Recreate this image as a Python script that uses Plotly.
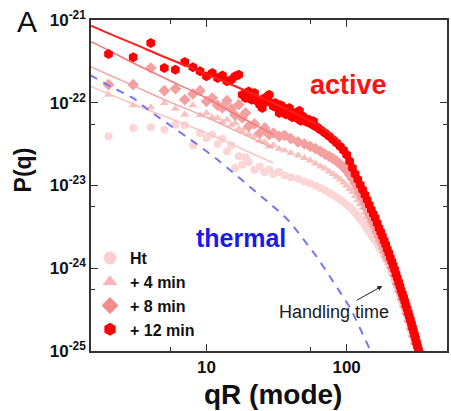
import plotly.graph_objects as go

# ---------------- data ----------------
# +12 min (red)
q_12 = [2, 3, 4, 5, 6, 7, 8, 9, 10, 11, 12, 13, 14, 15, 16, 17,
        18, 19, 20, 21, 22, 23, 24, 25, 26, 27, 28, 29, 30,
        31, 32, 33, 34, 35, 36, 37, 38, 39, 40, 41, 42, 43, 44, 45, 46, 47, 48, 49, 50,
        52, 54, 55, 57, 58, 60, 62, 65, 70, 75, 80, 85, 90, 95,
        100, 105, 110, 115, 120, 125, 130, 135, 140, 145, 150, 155, 160, 165, 170, 175,
        180, 185, 190, 195, 200, 205, 210, 215, 220, 225, 230, 235, 240, 245, 250, 255,
        260, 265, 270, 275, 280, 285, 290, 295, 300, 305, 310, 315, 320, 325, 330]
P_12 = [3.88e-22, 3.54e-22, 5.27e-22, 2.63e-22, 2.51e-22, 3.11e-22, 2.68e-22, 2.40e-22,
        2.09e-22, 2.29e-22, 1.99e-22, 2.14e-22, 1.82e-22, 1.90e-22, 2.09e-22, 2.18e-22,
        1.25e-22, 1.14e-22, 1.37e-22, 1.09e-22, 1.31e-22, 1.04e-22, 9.49e-23, 8.65e-23,
        1.14e-22, 1.04e-22, 1.25e-22, 9.94e-23, 9.06e-23,
        9.94e-23, 8.65e-23, 7.53e-23, 9.31e-23, 8.80e-23, 7.88e-23, 7.19e-23, 8.26e-23,
        8.65e-23, 7.19e-23, 6.68e-23, 7.53e-23, 7.06e-23, 6.55e-23, 7.73e-23, 8.03e-23,
        6.07e-23, 6.55e-23, 6.80e-23, 6.25e-23,
        5.86e-23, 6.25e-23, 5.70e-23, 5.44e-23, 5.97e-23, 5.19e-23, 5.03e-23, 4.73e-23,
        4.31e-23, 3.93e-23, 3.58e-23, 3.26e-23, 2.97e-23, 2.66e-23,
        2.36e-23, 1.96e-23, 1.63e-23, 1.38e-23, 1.18e-23, 1.02e-23, 8.90e-24, 7.75e-24,
        6.74e-24, 5.87e-24, 5.11e-24, 4.53e-24, 4.05e-24, 3.52e-24, 3.07e-24, 2.74e-24,
        2.43e-24, 2.16e-24, 1.93e-24, 1.71e-24, 1.53e-24, 1.35e-24, 1.21e-24, 1.08e-24,
        9.64e-25, 8.55e-25, 7.64e-25, 6.78e-25, 6.06e-25, 5.42e-25, 4.90e-25, 4.42e-25,
        3.99e-25, 3.57e-25, 3.23e-25, 2.91e-25, 2.63e-25, 2.38e-25, 2.13e-25, 1.92e-25,
        1.73e-25, 1.57e-25, 1.42e-25, 1.28e-25, 1.14e-25, 1.04e-25, 9.51e-26]

# modes used for Ht, +4 min and +8 min
q_modes = [2, 3, 4, 5, 6, 7, 8, 9, 10, 11, 12, 13, 14, 15, 16, 17, 18, 19, 20,
           22, 24, 26, 28, 30, 33, 36, 40, 45, 50, 55, 60, 65, 70, 75, 80, 85, 90, 95, 100,
           105, 110, 115, 120, 125, 130, 135, 140, 145, 150, 155, 160, 165, 170, 175,
           180, 185, 190, 195, 200,
           210, 220, 230, 240, 250, 260, 270, 280, 290, 300, 310]

P_8 = [1.655e-22, 1.655e-22, 2.63e-22, 1.40e-22, 1.48e-22, 1.09e-22, 1.28e-22, 1.40e-22,
       1.04e-22, 1.14e-22, 9.31e-23, 8.65e-23, 1.06e-22, 8.49e-23, 7.06e-23, 9.49e-23,
       6.55e-23, 7.53e-23, 5.19e-23,
       5.54e-23, 4.31e-23, 4.96e-23, 4.12e-23, 4.31e-23, 3.93e-23, 4.04e-23, 3.68e-23,
       3.36e-23, 3.18e-23, 2.97e-23, 2.79e-23, 2.59e-23, 2.40e-23, 2.25e-23, 2.11e-23,
       1.96e-23, 1.82e-23, 1.66e-23, 1.51e-23,
       1.35e-23, 1.21e-23, 1.06e-23, 9.33e-24, 8.11e-24, 7.06e-24, 6.09e-24, 5.25e-24,
       4.52e-24, 4.05e-24, 3.59e-24, 3.21e-24, 2.79e-24, 2.45e-24, 2.20e-24, 1.98e-24,
       1.76e-24, 1.57e-24, 1.40e-24, 1.27e-24,
       1.01e-24, 8.16e-25, 6.47e-25, 5.22e-25, 4.22e-25, 3.47e-25, 2.81e-25, 2.31e-25,
       1.87e-25, 1.52e-25, 1.24e-25]

P_4 = [1.253e-22, 9.31e-23, 8.82e-23, 9.94e-23, 8.49e-23, 7.19e-23, 9.31e-23, 7.06e-23,
       7.53e-23, 6.68e-23, 6.55e-23, 5.86e-23, 6.25e-23, 5.34e-23, 5.70e-23, 4.86e-23,
       4.52e-23, 4.96e-23, 4.20e-23,
       3.93e-23, 3.48e-23, 3.36e-23, 2.97e-23, 3.06e-23, 2.79e-23, 2.64e-23, 2.47e-23,
       2.30e-23, 2.15e-23, 2.00e-23, 1.85e-23, 1.70e-23, 1.60e-23, 1.48e-23, 1.38e-23,
       1.28e-23, 1.18e-23, 1.09e-23, 1.00e-23,
       9.10e-24, 8.35e-24, 7.47e-24, 6.68e-24, 5.98e-24, 5.35e-24, 4.74e-24, 4.20e-24,
       3.73e-24, 3.36e-24, 3.05e-24, 2.74e-24, 2.43e-24, 2.16e-24, 1.95e-24, 1.76e-24,
       1.59e-24, 1.43e-24, 1.28e-24, 1.16e-24,
       9.38e-25, 7.57e-25, 6.12e-25, 4.94e-25, 4.07e-25, 3.35e-25, 2.73e-25, 2.25e-25,
       1.83e-25, 1.51e-25, 1.23e-25]

P_ht = [3.93e-23, 4.96e-23, 5.06e-23, 4.73e-23, 5.44e-23, 5.34e-23, 3.06e-23, 4.31e-23,
        3.75e-23, 4.12e-23, 3.18e-23, 3.68e-23, 2.59e-23, 3.06e-23, 1.63e-23, 2.25e-23,
        1.785e-23, 2.19e-23, 1.92e-23,
        1.55e-23, 1.70e-23, 1.46e-23, 1.55e-23, 1.38e-23, 1.46e-23, 1.33e-23, 1.26e-23,
        1.21e-23, 1.12e-23, 1.06e-23, 9.96e-24, 9.33e-24, 8.74e-24, 8.19e-24, 7.68e-24,
        7.19e-24, 6.74e-24, 6.27e-24, 5.87e-24,
        5.45e-24, 5.06e-24, 4.65e-24, 4.28e-24, 3.94e-24, 3.62e-24, 3.30e-24, 3.01e-24,
        2.75e-24, 2.50e-24, 2.32e-24, 2.16e-24, 1.98e-24, 1.82e-24, 1.69e-24, 1.57e-24,
        1.43e-24, 1.32e-24, 1.20e-24, 1.10e-24,
        8.95e-25, 7.23e-25, 5.84e-25, 4.72e-25, 3.88e-25, 3.20e-25, 2.63e-25, 2.16e-25,
        1.77e-25, 1.45e-25, 1.20e-25]

# fitted curves
fit_q_12 = [1.5, 2, 3, 5, 10, 20, 30, 50, 70, 90]
fit_P_12 = [8.54e-22, 6.90e-22, 5.18e-22, 3.57e-22, 2.22e-22, 1.35e-22, 9.94e-23,
            6.55e-23, 4.73e-23, 3.35e-23]
fit_q = [1.5, 2, 3, 5, 10, 15, 20, 25, 30]
fit_P_8 = [5.47e-22, 4.30e-22, 3.02e-22, 1.99e-22, 1.142e-22, 7.73e-23, 5.97e-23, 4.86e-23, 4.12e-23]
fit_P_4 = [2.73e-22, 2.18e-22, 1.61e-22, 1.091e-22, 6.68e-23, 4.86e-23, 3.90e-23, 3.26e-23, 2.84e-23]
fit_P_ht = [1.57e-22, 1.28e-22, 9.67e-23, 6.86e-23, 4.31e-23, 3.18e-23, 2.54e-23, 2.149e-23, 1.87e-23]

# thermal prediction (dashed)
thermal_q = [1.48, 2, 3, 4, 5, 6, 8, 10, 12, 15, 20, 25, 30, 35, 40, 50, 60, 70, 80, 90, 100,
             110, 120, 130, 140, 150]
thermal_P = [2.16e-22, 1.62e-22, 1.14e-22, 7.8e-23, 5.97e-23, 4.84e-23, 3.42e-23, 2.59e-23,
             2.05e-23, 1.50e-23, 1.00e-23, 7.26e-24, 5.55e-24, 4.45e-24, 3.52e-24, 2.16e-24,
             1.44e-24, 9.8e-25, 7.0e-25, 5.17e-25, 3.88e-25, 2.94e-25, 2.14e-25, 1.64e-25,
             1.24e-25, 9.6e-26]

series_names = ["Ht", "+ 4 min", "+ 8 min", "+ 12 min"]
x_tick_vals = [10, 100]
x_tick_text = ["10", "100"]
y_tick_vals = [1e-21, 1e-22, 1e-23, 1e-24, 1e-25]
y_tick_text = ["10<sup>-21</sup>", "10<sup>-22</sup>", "10<sup>-23</sup>",
               "10<sup>-24</sup>", "10<sup>-25</sup>"]

assert len(q_12) == len(P_12)
assert len(q_modes) == len(P_8) == len(P_4) == len(P_ht)

# ---------------- styling ----------------
FONT = "Liberation Sans, Arial, sans-serif"
C_HT, C_4, C_8, C_12 = "#fcd5d5", "#f9c0c0", "#f4a0a0", "#ff0000"
LEG_HT, LEG_4, LEG_8, LEG_12 = "#fbcfcf", "#f8b6b6", "#f28c8c", "#ff0000"
L_HT, L_4, L_8, L_12 = "#f9c4c4", "#f6a6a6", "#f07a7a", "#ff1e1e"
AX = "#333333"

fig = go.Figure()

def pts(q, p, color, symbol, size, name):
    fig.add_trace(go.Scatter(x=q, y=p, mode="markers", name=name, showlegend=False,
                             marker=dict(color=color, symbol=symbol, size=size,
                                         line=dict(width=0))))

def fit(q, p, color, width):
    fig.add_trace(go.Scatter(x=q, y=p, mode="lines", showlegend=False, hoverinfo="skip",
                             line=dict(color=color, width=width, shape="spline")))

pts(q_modes, P_ht, C_HT, "circle", 8, series_names[0])
pts(q_modes, P_4, C_4, "triangle-up", 8, series_names[1])
pts(q_modes, P_8, C_8, "diamond", 9, series_names[2])
fit(fit_q, fit_P_ht, L_HT, 1.5)
fit(fit_q, fit_P_4, L_4, 1.5)
fit(fit_q, fit_P_8, L_8, 1.5)
pts(q_12, P_12, C_12, "hexagon", 10, series_names[3])
fit(fit_q_12, fit_P_12, L_12, 2)

fig.add_trace(go.Scatter(x=thermal_q, y=thermal_P, mode="lines", showlegend=False,
                         line=dict(color="#7676f4", width=2, dash="8px,7px")))

# legend entries
for name, color, sym, rank in zip(series_names, [LEG_HT, LEG_4, LEG_8, LEG_12],
                                   ["circle", "triangle-up", "diamond", "hexagon"],
                                   [1, 2, 3, 4]):
    fig.add_trace(go.Scatter(x=[None], y=[None], mode="markers", name=name,
                             legendrank=rank,
                             marker=dict(color=color, symbol=sym, size=13)))

axis_common = dict(type="log", showline=True, linecolor=AX, linewidth=1.5,
                   mirror="allticks", ticks="inside", ticklen=7, tickwidth=1.2,
                   tickcolor=AX, showgrid=False, zeroline=False,
                   tickfont=dict(family=FONT, size=17, color="#111111", weight="bold"))

fig.update_xaxes(**axis_common, range=[0.176, 2.716], tickmode="array",
                 tickvals=x_tick_vals, ticktext=x_tick_text,
                 minor=dict(tickvals=[5.5, 55], ticks="inside", ticklen=4,
                            tickcolor=AX, showgrid=False))
fig.update_yaxes(**axis_common, range=[-25, -21], tickmode="array",
                 tickvals=y_tick_vals, ticktext=y_tick_text,
                 minor=dict(tickvals=[5.5e-23, 5.5e-24, 5.5e-25], ticks="inside",
                            ticklen=4, tickcolor=AX, showgrid=False))

W, H = 451, 411
L, R, T, B = 91, 2, 20, 60
pw, ph = W - L - R, H - T - B

def px(x):
    return (x - L) / pw

def py(y):
    return (H - B - y) / ph

annotations = [
    dict(text="A", x=px(27), y=py(22), font=dict(family=FONT, size=30, color="#111")),
    dict(text="active", x=px(350), y=py(85), font=dict(family=FONT, size=27, color="#ff1010", weight="bold")),
    dict(text="thermal", x=px(242), y=py(238), font=dict(family=FONT, size=25, color="#1a1aee", weight="bold")),
    dict(text="Handling time", x=px(335), y=py(312), font=dict(family=FONT, size=18, color="#1a1a1a")),
    dict(text="P(q)", x=px(23), y=py(170), textangle=-90,
         font=dict(family=FONT, size=23, color="#111", weight="bold")),
    dict(text="qR (mode)", x=px(274), y=py(394),
         font=dict(family=FONT, size=28, color="#111", weight="bold")),
]
for a in annotations:
    a.update(xref="paper", yref="paper", showarrow=False, xanchor="center", yanchor="middle")

annotations.append(dict(text="", x=px(384), y=py(286), xref="paper", yref="paper",
                        ax=-27, ay=15, showarrow=True, arrowhead=2, arrowsize=1,
                        arrowwidth=1, arrowcolor="#222"))

fig.update_layout(
    width=W, height=H,
    margin=dict(l=L, r=R, t=T, b=B),
    paper_bgcolor="white", plot_bgcolor="white",
    font=dict(family=FONT),
    annotations=annotations,
    legend=dict(x=px(90), y=py(241), xanchor="left", yanchor="top",
                bgcolor="rgba(0,0,0,0)", borderwidth=0, tracegroupgap=0,
                font=dict(family=FONT, size=16, color="#111", weight="bold")),
)

fig.write_html("out.html")
